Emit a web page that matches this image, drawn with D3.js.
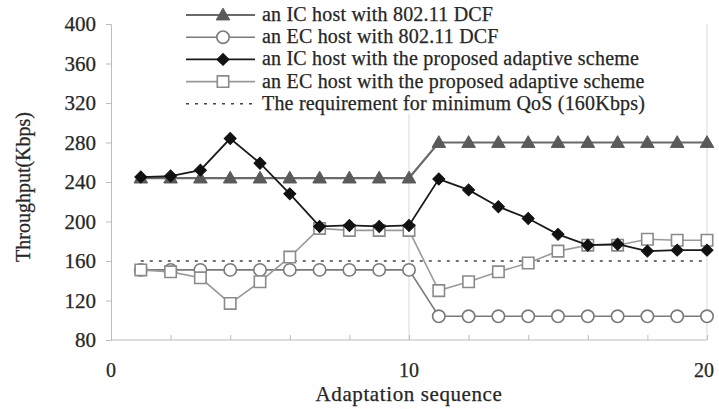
<!DOCTYPE html>
<html>
<head>
<meta charset="utf-8">
<script src="https://cdn.jsdelivr.net/npm/d3@7"></script>
<style>
  body { margin: 0; background: #fff; }
  svg { display: block; font-family: "Liberation Serif", "Times New Roman", serif; }
  svg text { stroke: #262626; stroke-width: 0.25px; }
</style>
</head>
<body>
<div id="chart"></div>
<script>
// data
const steps = d3.range(1, 21);
const icDcf = [244, 244, 244, 244, 244, 244, 244, 244, 244, 244,
               280, 280, 280, 280, 280, 280, 280, 280, 280, 280];
const ecDcf = [151, 151, 151, 151, 151, 151, 151, 151, 151, 151,
               104, 104, 104, 104, 104, 104, 104, 104, 104, 104];
const icAdaptive = [245, 246, 252, 284, 259, 228, 195, 196, 195, 196,
                    243, 232, 215, 203, 187, 176, 177, 170, 171, 171];
const ecAdaptive = [151, 149, 143, 117, 139, 164, 193, 191, 191, 191,
                    130, 139, 149, 158, 170, 176, 176, 182, 181, 181];
const qosLevel = 160;
const yTicks = [80, 120, 160, 200, 240, 280, 320, 360, 400];
const xLabels = [0, 10, 20];
const legendLabels = [
  'an IC host with 802.11 DCF',
  'an EC host with 802.11 DCF',
  'an IC host with the proposed adaptive scheme',
  'an EC host with the proposed adaptive scheme',
  'The requirement for minimum QoS (160Kbps)'
];

const W = 719, H = 409;
const textColor = '#262626';
const svg = d3.select('#chart').append('svg')
  .attr('width', W).attr('height', H);

const x = d3.scaleLinear().domain([0, 20]).range([111, 707]);
const y = d3.scaleLinear().domain([80, 400]).range([340, 24]);

// vertical grid lines at 10 and 20
svg.append('g').selectAll('line')
  .data([10, 20]).enter().append('line')
  .attr('x1', d => x(d)).attr('x2', d => x(d))
  .attr('y1', y(400)).attr('y2', y(80))
  .attr('stroke', '#d9d9d9').attr('stroke-width', 1);

// y axis
const yAxis = svg.append('g')
  .attr('transform', `translate(${x(0)},0)`)
  .call(d3.axisLeft(y).tickValues(yTicks).tickSize(5).tickPadding(10));
yAxis.select('.domain').attr('stroke', '#bdbdbd');
yAxis.selectAll('.tick line').attr('stroke', '#bdbdbd');
yAxis.selectAll('.tick text')
  .attr('font-size', 21).attr('fill', textColor)
  .attr('font-family', '"Liberation Serif", serif');

// x axis: minor ticks every 2 pointing inward, labels at 0/10/20
const xAxis = svg.append('g')
  .attr('transform', `translate(0,${y(80)})`)
  .call(d3.axisTop(x).tickValues(d3.range(0, 21, 2)).tickSize(5).tickFormat(''));
xAxis.select('.domain').attr('stroke', '#bdbdbd').attr('d', `M${x(0)},0H${x(20)}`);
xAxis.selectAll('.tick line').attr('stroke', '#bdbdbd');

svg.append('g').selectAll('text')
  .data(xLabels).enter().append('text')
  .attr('x', d => x(d) - (d === 20 ? 3 : 0)).attr('y', 377)
  .attr('text-anchor', 'middle')
  .attr('font-size', 20).attr('fill', textColor)
  .text(d => d);

// axis titles
svg.append('text')
  .attr('x', x(10)).attr('y', 401)
  .attr('text-anchor', 'middle')
  .attr('font-size', 21).attr('letter-spacing', 0.6).attr('fill', textColor)
  .text('Adaptation sequence');

svg.append('text')
  .attr('transform', `translate(30,${(y(80) + y(400)) / 2 + 5}) rotate(-90)`)
  .attr('text-anchor', 'middle')
  .attr('font-size', 20).attr('fill', textColor)
  .text('Throughput(Kbps)');

// QoS requirement line
svg.append('line')
  .attr('x1', x(1)).attr('x2', x(20))
  .attr('y1', y(qosLevel)).attr('y2', y(qosLevel))
  .attr('stroke', '#444').attr('stroke-width', 1.6)
  .attr('stroke-dasharray', '3,6');

const line = d3.line().x((d, i) => x(steps[i])).y(d => y(d));

const series = [
  { values: icDcf, line: '#6a6a6a', width: 2.2, marker: 'triangle', fill: '#5a5a5a', stroke: '#5a5a5a' },
  { values: ecDcf, line: '#7a7a7a', width: 1.6, marker: 'circle', fill: '#fff', stroke: '#7a7a7a' },
  { values: ecAdaptive, line: '#9a9a9a', width: 1.6, marker: 'square', fill: '#fff', stroke: '#8a8a8a' },
  { values: icAdaptive, line: '#1a1a1a', width: 1.8, marker: 'diamond', fill: '#111', stroke: '#111' }
];

const symbolOf = {
  triangle: d3.symbol().type(d3.symbolTriangle).size(80),
  circle: d3.symbol().type(d3.symbolCircle).size(120),
  square: d3.symbol().type(d3.symbolSquare).size(130),
  diamond: d3.symbol().type(d3.symbolSquare).size(72)
};

function drawMarker(g, s, px, py) {
  let tr = `translate(${px},${py + (s.marker === 'triangle' ? 1 : 0)})`;
  if (s.marker === 'diamond') tr += ' rotate(45)';
  return g.append('path')
    .attr('d', symbolOf[s.marker]())
    .attr('transform', tr)
    .attr('fill', s.fill)
    .attr('stroke', s.stroke)
    .attr('stroke-width', s.marker === 'circle' || s.marker === 'square' ? 1.6 : 1);
}

series.forEach(s => {
  const g = svg.append('g');
  g.append('path')
    .datum(s.values)
    .attr('d', line)
    .attr('fill', 'none')
    .attr('stroke', s.line)
    .attr('stroke-width', s.width);
  s.values.forEach((v, i) => drawMarker(g, s, x(steps[i]), y(v)));
});

// legend
const legend = svg.append('g');
legend.append('rect')
  .attr('x', 182).attr('y', 0).attr('width', 470).attr('height', 114)
  .attr('fill', '#fff');

const legendSeries = [series[0], series[1], series[3], series[2]];
legendLabels.forEach((label, i) => {
  const ly = 15 + i * 22.2;
  const row = legend.append('g');
  if (i < 4) {
    const s = legendSeries[i];
    row.append('line')
      .attr('x1', 186).attr('x2', 255).attr('y1', ly).attr('y2', ly)
      .attr('stroke', s.line).attr('stroke-width', s.width);
    drawMarker(row, s, 223, ly);
  } else {
    row.append('line')
      .attr('x1', 186).attr('x2', 255).attr('y1', ly).attr('y2', ly)
      .attr('stroke', '#444').attr('stroke-width', 1.6)
      .attr('stroke-dasharray', '3,6');
  }
  row.append('text')
    .attr('x', 262).attr('y', ly + 6)
    .attr('font-size', 20).attr('letter-spacing', 0.2).attr('fill', textColor)
    .text(label);
});
</script>
</body>
</html>
